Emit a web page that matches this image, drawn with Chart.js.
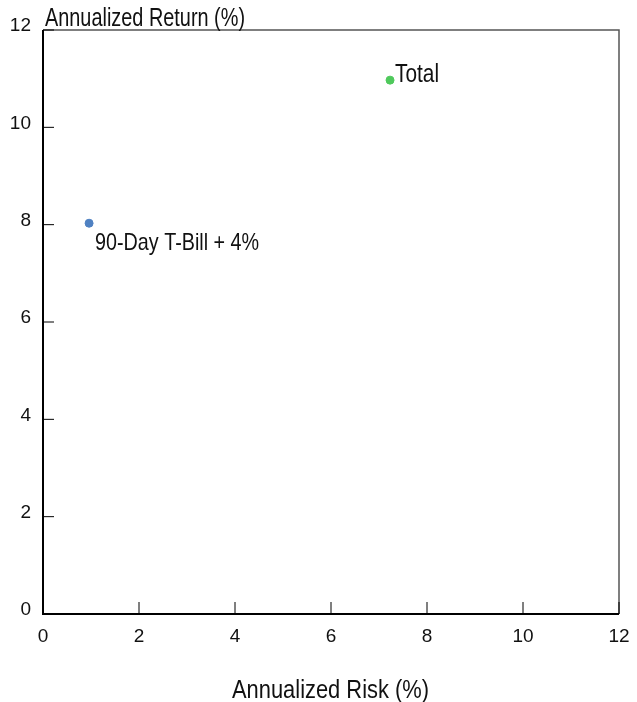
<!DOCTYPE html>
<html lang="en">
<head>
  <meta charset="UTF-8">
  <title>Risk vs Return</title>
  <style>
    body { margin: 0; background: #fff; }
    #wrap { width: 637px; height: 702px; }
  </style>
</head>
<body>
<div id="wrap"><canvas id="chart" width="637" height="702"></canvas></div>

<script src="https://cdn.jsdelivr.net/npm/chart.js"></script>
<script>
const names = ['90-Day T-Bill + 4%', 'Total'];
const risk = [0.96, 7.23];
const ret = [8.03, 10.97];
const colors = ['#4f81c2', '#4fc95c'];
const tickValues = [0, 2, 4, 6, 8, 10, 12];

const FONT = "'Liberation Sans', Arial, sans-serif";

// no narrow font installed, so squeeze the text horizontally
function narrowText(ctx, text, x, y, size, width, align) {
  ctx.save();
  ctx.font = size + 'px ' + FONT;
  const w = ctx.measureText(text).width;
  const k = width / w;
  ctx.translate(align === 'center' ? x - width / 2 : x, y);
  ctx.scale(k, 1);
  ctx.textAlign = 'left';
  ctx.textBaseline = 'alphabetic';
  ctx.fillText(text, 0, 0);
  ctx.restore();
}

const frame = {
  id: 'frame',
  afterDraw(chart) {
    const { ctx, chartArea: a, scales } = chart;
    ctx.save();
    ctx.strokeStyle = '#555';
    ctx.lineWidth = 1.5;
    ctx.beginPath();
    ctx.moveTo(a.left, a.top); ctx.lineTo(a.right, a.top); ctx.lineTo(a.right, a.bottom);
    ctx.stroke();
    ctx.strokeStyle = '#000';
    ctx.lineWidth = 2;
    ctx.beginPath();
    ctx.moveTo(a.left, a.top); ctx.lineTo(a.left, a.bottom); ctx.lineTo(a.right, a.bottom);
    ctx.stroke();
    ctx.lineWidth = 1;
    tickValues.forEach(v => {
      const x = scales.x.getPixelForValue(v);
      ctx.beginPath(); ctx.moveTo(x, a.bottom); ctx.lineTo(x, a.bottom - 12); ctx.stroke();
      const y = scales.y.getPixelForValue(v);
      ctx.beginPath(); ctx.moveTo(a.left, y); ctx.lineTo(a.left + 11, y); ctx.stroke();
    });

    ctx.fillStyle = '#111';
    narrowText(ctx, 'Annualized Return (%)', a.left + 2, a.top - 4, 25, 200);
    narrowText(ctx, 'Annualized Risk (%)', 330.5, 698, 25, 197, 'center');

    const meta = chart.getDatasetMeta(0);
    const p0 = meta.data[0], p1 = meta.data[1];
    narrowText(ctx, names[0], p0.x + 6, p0.y + 27, 24, 164);
    narrowText(ctx, names[1], p1.x + 5, p1.y + 2, 25, 44);
    ctx.restore();
  }
};

new Chart(document.getElementById('chart'), {
  type: 'scatter',
  data: {
    datasets: [{
      data: risk.map((r, i) => ({ x: r, y: ret[i] })),
      backgroundColor: colors,
      borderColor: colors,
      pointRadius: 4,
      pointHoverRadius: 4
    }]
  },
  options: {
    responsive: false,
    animation: false,
    layout: { padding: { top: 30, right: 18, left: 0, bottom: 0 } },
    plugins: { legend: { display: false }, tooltip: { enabled: false } },
    scales: {
      x: {
        min: 0, max: 12,
        grid: { display: false, drawTicks: false },
        border: { display: false },
        ticks: { stepSize: 2, padding: 11, color: '#111', font: { family: FONT, size: 19 } },
        afterFit(s) { s.height = 88; s.paddingRight = 0; s.paddingLeft = 0; }
      },
      y: {
        min: 0, max: 12,
        grid: { display: false, drawTicks: false },
        border: { display: false },
        ticks: { stepSize: 2, padding: 12, labelOffset: -4, color: '#111', font: { family: FONT, size: 19 } },
        afterFit(s) { s.width = 43; s.paddingTop = 0; s.paddingBottom = 0; }
      }
    }
  },
  plugins: [frame]
});
</script>
</body>
</html>
